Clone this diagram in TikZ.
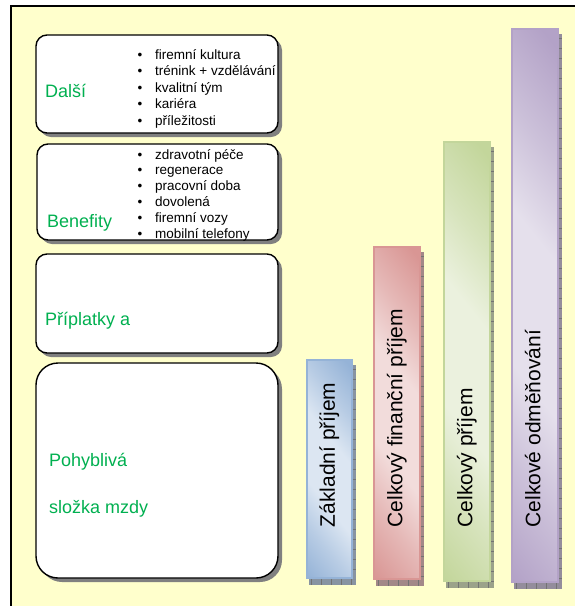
\documentclass[tikz,border=0pt]{standalone}
\usepackage{fontspec}
\setmainfont{Liberation Sans}
\definecolor{bgyellow}{HTML}{FFFFCC}
\definecolor{grn}{HTML}{00B050}
\definecolor{shadowgray}{HTML}{808080}
\definecolor{bluedark}{HTML}{95B3D7}\definecolor{bluelight}{HTML}{DCE6F2}
\definecolor{reddark}{HTML}{D99694}\definecolor{redlight}{HTML}{F2DCDB}
\definecolor{greendark}{HTML}{C3D69B}\definecolor{greenlight}{HTML}{EBF1DE}
\definecolor{purpledark}{HTML}{B3A2C7}\definecolor{purplelight}{HTML}{E5E0EC}
\newcommand\declbarshade[3]{%
  \colorlet{#1mid}{#2!50!#3}%
  \pgfdeclarehorizontalshading{#1}{100bp}{color(0bp)=(#2); color(15bp)=(#2);
    color(28.5bp)=(#1mid); color(40bp)=(#3); color(58bp)=(#3);
    color(69.5bp)=(#1mid); color(83bp)=(#2); color(100bp)=(#2)}}
\declbarshade{barblue}{bluedark}{bluelight}
\declbarshade{barred}{reddark}{redlight}
\declbarshade{bargreen}{greendark}{greenlight}
\declbarshade{barpurple}{purpledark}{purplelight}
\newcommand\drawbar[6]{% x0 y0 x1 y1 dark shading
  \fill[#5!40!gray] (#1+3,#2+6) rectangle (#3+2.5,#4+6);
  \draw[black!55, line width=5.5pt, dash pattern=on 0.8pt off 9.2pt] (#1+5,#4+3) -- (#3+2.5,#4+3);
  \draw[black!55, line width=2.5pt, dash pattern=on 0.8pt off 9.2pt] (#3+1.25,#2+10) -- (#3+1.25,#4);
  \path[shade, shading=#6, shading angle=38.66, draw=#5, line width=2pt] (#1+1,#2+1) rectangle (#3-1,#4-1);
}
\tikzset{
  card/.style={draw=black, line width=1.4pt, fill=white, rounded corners=#1},
  card/.default=11pt,
  cardshadow/.style={fill=shadowgray, rounded corners=#1},
  cardshadow/.default=11pt,
  lbl/.style={text=grn, font=\fontsize{18}{20}\selectfont, anchor=base west, inner sep=0pt},
  item/.style={font=\fontsize{13.5}{15}\selectfont, anchor=base west, inner sep=0pt},
  bartext/.style={rotate=90, anchor=base west, inner sep=0pt, font=\fontsize{21}{24}\selectfont},
}
\begin{document}
\begin{tikzpicture}[x=1pt, y=-1pt]
\useasboundingbox (0,0) rectangle (574,606);
% frame
\fill[bgyellow] (11,6) rectangle (600,620);
\draw[line width=2pt] (11,620) -- (11,6) -- (600,6);
% cards
\fill[cardshadow] (40,39) rectangle (282,137);
\draw[card] (36,35) rectangle (278,133);
\fill[cardshadow] (41,148) rectangle (282,244);
\draw[card] (37,144) rectangle (278,240);
\fill[cardshadow] (40,258) rectangle (282,357);
\draw[card] (36,254) rectangle (278,353);
\fill[cardshadow=22pt] (40,367) rectangle (282,582);
\draw[card=22pt] (36,363) rectangle (278,578);
% labels
\node[lbl] (dalsi) at (45,97) {Další};
\node[lbl] (benefity) at (47,227) {Benefity};
\node[lbl] (priplatky) at (45,325) {Příplatky a};
\node[lbl] (pohybliva) at (49,466) {Pohyblivá};
\node[lbl] (slozka) at (49,513) {složka mzdy};
% lists
\foreach \t [count=\i] in {firemní kultura, trénink + vzdělávání, kvalitní tým, kariéra, příležitosti}
  \node[item] (d\i) at (137.5,{59+16.5*(\i-1)}) {\makebox[17.5pt][l]{•}\t};
\foreach \t [count=\i] in {zdravotní péče, regenerace, pracovní doba, dovolená, firemní vozy, mobilní telefony}
  \node[item] (b\i) at (137.5,{159+15.8*(\i-1)}) {\makebox[17.5pt][l]{•}\t};
% bars
\drawbar{306}{359}{353}{579}{bluedark}{barblue}
\drawbar{373}{246}{421}{580}{reddark}{barred}
\drawbar{443}{141}{491}{582}{greendark}{bargreen}
\drawbar{511}{28}{559}{583}{purpledark}{barpurple}
\node[bartext] (zp) at (334.8,527.5) {Základní příjem};
\node[bartext] (cfp) at (402.3,527.5) {Celkový finanční příjem};
\node[bartext] (cp) at (472.3,527.5) {Celkový příjem};
\node[bartext] (co) at (540.3,527.5) {Celkové odměňování};
\end{tikzpicture}
\end{document}
